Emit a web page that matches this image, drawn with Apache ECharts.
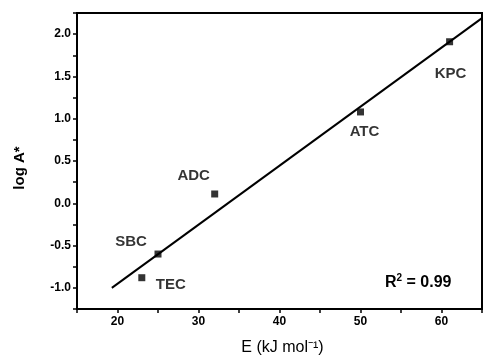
<!DOCTYPE html>
<html>
<head>
<meta charset="utf-8">
<script src="https://cdn.jsdelivr.net/npm/echarts@6/dist/echarts.min.js"></script>
<style>
  html, body { margin: 0; padding: 0; background: #fff; }
  #chart { width: 485px; height: 361px; }
</style>
</head>
<body>
<div id="chart"></div>
<script>
const names = ["KPC", "ATC", "ADC", "SBC", "TEC"];
const energy = [61, 50, 32, 25, 23];
const logA = [1.91, 1.08, 0.11, -0.6, -0.88];
const fitX = [19.3, 65];
const fitY = [-1.0, 2.19];
const rSquared = "0.99";

// label placement around each point (px)
const labelOffsets = [[1, 32], [4, 20], [-21, -18], [-27, -12], [29, 7]];

const chart = echarts.init(document.getElementById("chart"));

const font = "'Liberation Sans', Arial, sans-serif";

const isMultiple = (v, step) => Math.abs(v / step - Math.round(v / step)) < 1e-6;

const option = {
  animation: false,
  grid: {
    left: 77,
    top: 13,
    bottom: 47,
    right: -13.5,
    show: true,
    borderColor: "#000",
    borderWidth: 2
  },
  xAxis: {
    type: "value",
    min: 15,
    max: 65,
    interval: 5,
    name: "E (kJ mol\u207b\u00b9)",
    nameLocation: "middle",
    nameGap: 31,
    nameTextStyle: { color: "#000", fontFamily: font, fontSize: 16, padding: [0, 0, 0, 6] },
    axisLine: { onZero: false, lineStyle: { color: "#000", width: 2 } },
    axisTick: { length: 4, lineStyle: { color: "#000", width: 1.5 } },
    splitLine: { show: false },
    axisLabel: {
      color: "#000",
      fontFamily: font,
      fontWeight: "bold",
      fontSize: 12,
      margin: 7,
      formatter: (v) => (isMultiple(v, 10) && v > 15 && v < 65 ? v : "")
    }
  },
  yAxis: {
    type: "value",
    min: -1.25,
    max: 2.25,
    interval: 0.25,
    name: "log A*",
    nameLocation: "middle",
    nameGap: 50,
    nameTextStyle: { color: "#000", fontFamily: font, fontSize: 15, fontWeight: "bold", padding: [0, 14, 0, 0] },
    axisLine: { onZero: false, lineStyle: { color: "#000", width: 2 } },
    axisTick: { length: 4, lineStyle: { color: "#000", width: 1.5 } },
    splitLine: { show: false },
    axisLabel: {
      color: "#000",
      fontFamily: font,
      fontWeight: "bold",
      fontSize: 12,
      margin: 6,
      formatter: (v) => (isMultiple(v, 0.5) ? v.toFixed(1) : "")
    }
  },
  series: [
    {
      type: "line",
      data: fitX.map((x, i) => [x, fitY[i]]),
      symbol: "none",
      lineStyle: { color: "#000", width: 2 },
      z: 2
    },
    {
      type: "scatter",
      symbol: "rect",
      symbolSize: 7,
      itemStyle: { color: "#000" },
      z: 3,
      data: names.map((n, i) => ({
        name: n,
        value: [energy[i], logA[i]],
        label: {
          show: true,
          position: "inside",
          offset: labelOffsets[i],
          formatter: "{b}",
          color: "#000",
          fontFamily: font,
          fontWeight: "bold",
          fontSize: 15
        }
      }))
    }
  ],
  graphic: [
    {
      type: "text",
      left: 385,
      top: 273,
      style: {
        rich: {
          n: { fontFamily: font, fontSize: 16, fontWeight: "bold", fill: "#000" },
          s: { fontFamily: font, fontSize: 10, fontWeight: "bold", fill: "#000", verticalAlign: "top", padding: [0, 0, 9, 0] }
        },
        text: "{n|R}{s|2}{n| = " + rSquared + "}"
      }
    }
  ]
};

chart.setOption(option);
</script>
</body>
</html>
